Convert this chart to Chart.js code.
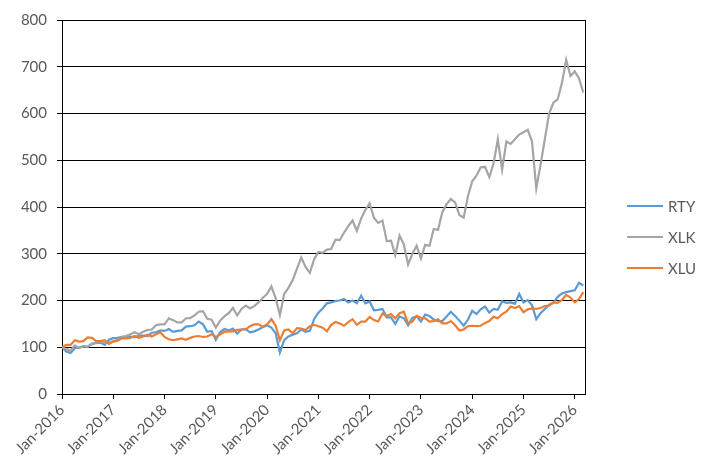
<!DOCTYPE html>
<html lang="en">
<head>
<meta charset="UTF-8" />
<title>RTY vs XLK vs XLU</title>
<script src="https://cdn.jsdelivr.net/npm/chart.js"></script>
<style>
  body {
    margin: 0;
    background: #fff;
    font-family: Lato, "Liberation Sans", sans-serif;
  }
  #wrap {
    position: relative;
    width: 712px;
    height: 473px;
  }
  #legend {
    position: absolute;
    left: 627px;
    top: 190px;
  }
  .item {
    display: flex;
    align-items: center;
    height: 31px;
    font-size: 15px;
    color: #595959;
  }
  .item span.line {
    display: inline-block;
    width: 36px;
    height: 2px;
    margin-right: 5px;
  }
</style>
</head>
<body>

<div id="wrap">
  <canvas id="chart" width="712" height="473"></canvas>
  <div id="legend"></div>
</div>

<script>
  // month starts, Jan 2016 .. Mar 2026 (decimal years)
  const startYear = 2016;
  const monthCount = 123;

  const seriesNames = ['RTY', 'XLK', 'XLU'];
  const seriesColors = ['#5B9BD5', '#A5A5A5', '#ED7D31'];

  const rty = [
    100, 91, 88, 98, 99.5, 102, 101, 107, 109, 110, 105, 116,
    119.5, 120, 122, 122, 123, 121, 125, 125, 124, 131, 132, 136,
    135, 139, 133, 135, 136, 144, 145, 147, 155, 149, 133, 135,
    116, 132, 139, 136, 140, 129, 138, 139, 132, 134, 138, 143,
    147, 142, 130, 89, 115, 123, 127, 130, 138, 133, 135, 160,
    174, 183, 194, 196, 199, 200, 203, 196, 200, 194, 210, 194,
    198, 179, 180, 182, 164, 164, 150, 166, 162, 147, 163, 166,
    155, 170, 167, 159, 156, 156, 166, 176, 167, 157, 146, 159,
    178, 171, 181, 187, 174, 182, 180, 198, 195, 196, 193, 214,
    196, 201, 190, 160, 173, 182, 191, 195, 208, 215, 218, 220,
    222, 238, 232
  ];

  const xlk = [
    100, 96, 93, 104, 98, 103, 101, 108, 109, 112, 110, 110,
    113, 116, 122, 124, 128, 132, 128, 133, 137, 138, 147, 149,
    149, 162, 158, 153, 153, 162, 162, 168, 176, 177, 161, 159,
    142, 157, 166, 173, 184, 168, 182, 189, 183, 188, 196, 206,
    214, 230, 205, 169, 214, 227, 244, 268, 292, 272, 259, 288,
    304, 302, 309, 310, 330, 329, 345, 359, 371, 349, 375, 394,
    408, 377, 366, 371, 327, 328, 297, 339, 320, 277, 300, 317,
    290, 319, 317, 353, 351, 389, 406, 417, 410, 383, 377, 423,
    455, 467, 485, 486, 464, 493, 545, 480, 540, 535, 545, 555,
    560, 565, 540, 440, 490, 545, 600, 623, 630, 665, 715, 680,
    690, 675, 645
  ];

  const xlu = [
    100, 105, 105, 115, 112, 113, 121, 120, 113, 113, 115, 107,
    112, 114, 119, 119, 120, 124, 120, 123, 127, 123, 128, 132,
    122, 117, 115, 117, 119, 116, 120, 123, 124, 122, 123, 128,
    122, 127, 133, 134, 134, 137, 138, 138, 145, 149, 149, 144,
    149, 160, 146, 115, 136, 138, 130, 141, 140, 137, 145, 148,
    145, 142, 134, 148, 154, 151, 146, 154, 160, 148, 155, 155,
    165, 158, 155, 172, 167, 171, 162, 173, 176, 151, 155, 167,
    163, 162, 155, 156, 160, 151, 151, 156, 147, 136, 138, 145,
    146, 145, 146, 152, 156, 165, 162, 171, 176, 187, 184, 188,
    175, 181, 183, 182, 184, 188, 189, 196, 195, 201, 212, 206,
    196, 203, 218
  ];

  const yTicks = [0, 100, 200, 300, 400, 500, 600, 700, 800];

  const months = [];
  for (let i = 0; i < monthCount; i++) months.push(startYear + i / 12);

  const toPoints = vals => vals.map((v, i) => ({ x: months[i], y: v }));
  const allSeries = [rty, xlk, xlu];

  const textColor = '#595959';
  const font = { family: 'Lato, "Liberation Sans", sans-serif', size: 15 };

  // right edge of the plot box
  const frameRight = {
    id: 'frameRight',
    afterDraw(chart) {
      const { ctx, chartArea } = chart;
      ctx.save();
      ctx.strokeStyle = '#000';
      ctx.lineWidth = 1;
      ctx.beginPath();
      ctx.moveTo(Math.round(chartArea.right) + 0.5, chartArea.top);
      ctx.lineTo(Math.round(chartArea.right) + 0.5, chartArea.bottom);
      ctx.stroke();
      ctx.restore();
    }
  };

  new Chart(document.getElementById('chart'), {
    type: 'line',
    data: {
      datasets: allSeries.map((vals, i) => ({
        label: seriesNames[i],
        data: toPoints(vals),
        borderColor: seriesColors[i],
        backgroundColor: seriesColors[i],
        borderWidth: 2.2,
        pointRadius: 0,
        tension: 0,
        fill: false,
        order: 2 - i
      }))
    },
    options: {
      responsive: false,
      animation: false,
      devicePixelRatio: 1,
      layout: { padding: { top: 20, right: 127, bottom: 0, left: 0 } },
      plugins: {
        legend: { display: false },
        tooltip: { enabled: false }
      },
      scales: {
        x: {
          type: 'linear',
          min: 2016,
          max: 2026.2,
          afterFit: s => { s.height = 79; },
          grid: {
            drawOnChartArea: false,
            drawTicks: true,
            tickLength: 5,
            color: '#000'
          },
          border: { color: '#000', width: 1 },
          ticks: {
            stepSize: 1,
            includeBounds: false,
            autoSkip: false,
            maxTicksLimit: 20,
            minRotation: 45,
            maxRotation: 45,
            padding: 2,
            color: textColor,
            font: font,
            callback: v => Number.isInteger(v) ? 'Jan-' + v : ''
          }
        },
        y: {
          min: 0,
          max: 800,
          afterFit: s => { s.width = 62; },
          afterBuildTicks: s => { s.ticks = yTicks.map(v => ({ value: v })); },
          grid: {
            color: '#000',
            tickLength: 5,
            lineWidth: 1
          },
          border: { color: '#000', width: 1 },
          ticks: {
            padding: 10,
            color: textColor,
            font: font
          }
        }
      }
    },
    plugins: [frameRight]
  });

  // legend on the right
  const legend = document.getElementById('legend');
  seriesNames.forEach((name, i) => {
    const row = document.createElement('div');
    row.className = 'item';
    row.innerHTML = '<span class="line" style="background:' + seriesColors[i] + '"></span>' + name;
    legend.appendChild(row);
  });
</script>

</body>
</html>
